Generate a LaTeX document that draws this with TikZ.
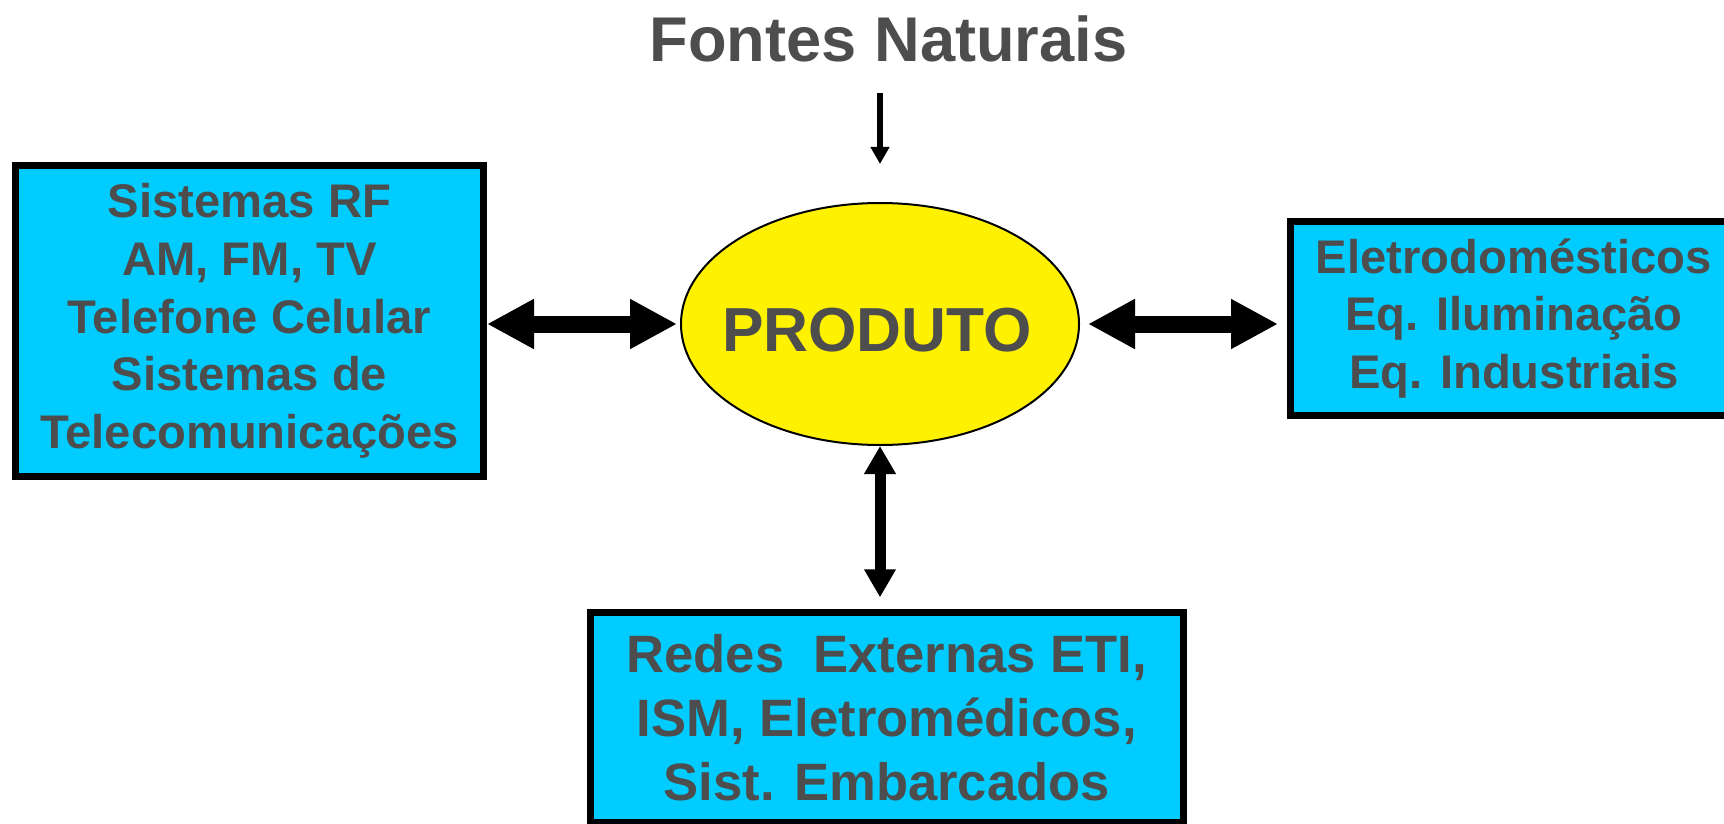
\documentclass[tikz,border=0pt]{standalone}
\usepackage{fontspec}
\setmainfont{Liberation Sans}
\usetikzlibrary{shapes.geometric,arrows.meta}
\definecolor{boxcyan}{HTML}{00CCFF}
\definecolor{textgray}{HTML}{4D4D4D}
\tikzset{
  box/.style={draw=black, line width=3.5pt, fill=boxcyan, inner sep=0pt,
    align=center, text=textgray, font=\fontsize{23.6}{28.85}\selectfont\bfseries},
  bigarrow/.style={line width=8.5pt,
    {Triangle[length=23.5pt,width=23.5pt]}-{Triangle[length=23.5pt,width=23.5pt]}},
  vertarrow/.style={line width=5.5pt,
    {Triangle[length=14pt,width=15pt]}-{Triangle[length=14pt,width=15pt]}},
}
\begin{document}
\begin{tikzpicture}[x=0.5pt,y=-0.5pt]
  \clip (0,0) rectangle (1724,824);
  \node[font=\fontsize{31.6}{36}\selectfont\bfseries, text=textgray]
    (src) at (888.5,38.5) {Fontes Naturais};
  \node[ellipse, draw, line width=1pt, fill=yellow, inner sep=0pt,
    minimum width=199pt, minimum height=121pt] (prod) at (880,324) {};
  \node[font=\fontsize{31.1}{34}\selectfont\bfseries, text=textgray]
    (prodtxt) at (877,330) {PRODUTO};
  \node[box, minimum width=234pt, minimum height=155.5pt] (lbox) at (249.5,321)
    {Sistemas RF\\AM, FM, TV\\Telefone Celular\\Sistemas de\\Telecomunicações};
  \node[box, minimum width=223.5pt, minimum height=97pt] (rbox) at (1514,318.5)
    {Eletrodomésticos\\Eq. Iluminação\\Eq. Industriais};
  \node[box, minimum width=296.75pt, minimum height=104.9pt,
    font=\fontsize{26.3}{31.85}\selectfont\bfseries] (bbox) at (886.75,717.7)
    {Redes\ \ Externas ETI,\\ISM, Eletromédicos,\\Sist. Embarcados};
  % connectors
  \draw[line width=3pt, -{Triangle[length=8.5pt,width=9pt]},
    shorten <=12pt, shorten >=19pt] (src.south -| prod.north) -- (prod.north);
  \draw[bigarrow, shorten >=1.5pt] (prod.west -| lbox.east) -- (prod.west);
  \draw[bigarrow, shorten <=4pt, shorten >=4.5pt] (prod.east) -- (prod.east -| rbox.west);
  \draw[vertarrow, shorten >=6pt] (prod.south) -- (prod.south |- bbox.north);
\end{tikzpicture}
\end{document}
